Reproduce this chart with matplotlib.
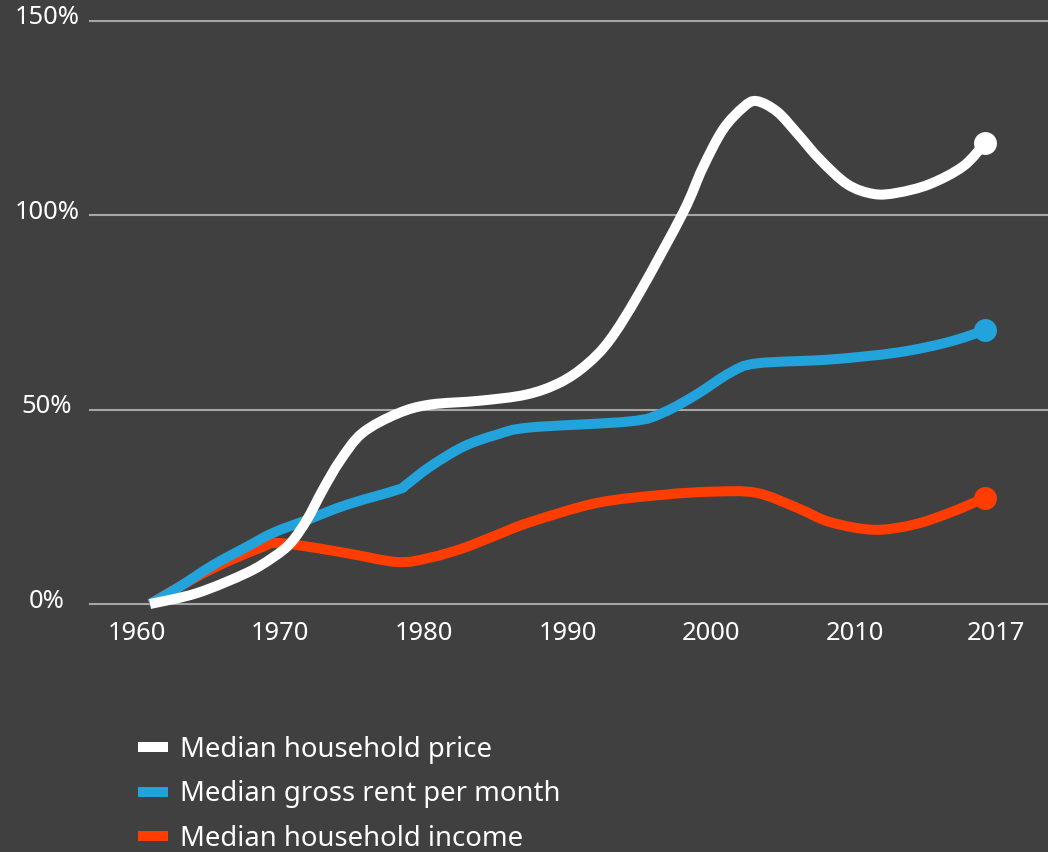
import numpy as np
import matplotlib
matplotlib.use('Agg')
from matplotlib import pyplot as plt
from matplotlib.lines import Line2D
from matplotlib.path import Path
from matplotlib.patches import PathPatch
from matplotlib import transforms

plt.rcParams['font.family'] = ['Noto Sans', 'DejaVu Sans']

# Values (percent change since 1960)
price_year = [1960, 1963.2, 1966.6, 1968.4, 1969.6, 1970.7, 1971.8, 1973.0, 1974.5, 1976.9,
              1979.1, 1982.5, 1985.7, 1988.0, 1989.8, 1991.4, 1993.4, 1996.4, 1997.7, 1999.1,
              2000.5, 2001.4, 2002.8, 2004.2, 2005.7, 2007.6, 2009.4, 2011.0, 2013.2, 2015.5,
              2017]
price_pct = [0, 2.8, 8.0, 12.0, 15.7, 21.6, 29.4, 37.0, 44.0, 49.0,
             51.3, 52.3, 53.9, 57.0, 61.6, 68.0, 80.0, 100.8, 112.0, 122.0,
             127.8, 129.4, 126.7, 121.0, 114.5, 108.0, 105.5, 105.8, 108.0, 112.6,
             118.6]

rent_year = [1960, 1962.0, 1964.3, 1966.6, 1968.4, 1970.7, 1973.4, 1976.9, 1977.5, 1979.1,
             1981.4, 1983.7, 1985.9, 1992.8, 1995.0, 1997.3, 1999.6, 2001.4, 2006.4, 2011.0,
             2014.4, 2017]
rent_pct = [0, 4.4, 10.0, 14.7, 18.3, 21.6, 25.5, 29.4, 30.7, 35.3,
            40.5, 43.6, 45.4, 47.0, 49.2, 53.9, 59.5, 61.9, 62.9, 64.7,
            67.3, 70.4]

income_year = [1960, 1963.2, 1965.5, 1967.7, 1968.4, 1970.0, 1973.4, 1976.9, 1979.1, 1981.4,
               1983.7, 1985.9, 1990.5, 1995.0, 1998.4, 2001.4, 2004.2, 2006.4, 2009.4, 2012.1,
               2014.6, 2017]
income_pct = [0, 7.0, 11.3, 14.7, 15.7, 15.2, 13.1, 10.8, 11.9, 14.4,
              17.8, 21.0, 26.0, 28.1, 28.9, 28.6, 24.7, 21.1, 19.1, 20.4,
              23.5, 27.3]

xtick_labels = ['1960', '1970', '1980', '1990', '2000', '2010', '2017']
xtick_pos = [1959.1, 1968.9, 1978.7, 1988.5, 1998.3, 2008.1, 2017.75]  # labels sit a bit left of the data
ytick_vals = [0, 50, 100, 150]
ytick_labels = ['0%', '50%', '100%', '150%']

series = [
    ('Median household price', price_year, price_pct, '#ffffff'),
    ('Median gross rent per month', rent_year, rent_pct, '#22a3dc'),
    ('Median household income', income_year, income_pct, '#ff3d00'),
]


def smooth_path(xs, ys):
    # catmull-rom through the points, written as cubic bezier segments
    p = np.column_stack([xs, ys]).astype(float)
    p = np.vstack([p[0], p, p[-1]])
    verts = [p[1]]
    codes = [Path.MOVETO]
    for i in range(1, len(p) - 2):
        c1 = p[i] + (p[i + 1] - p[i - 1]) / 6
        c2 = p[i + 1] - (p[i + 2] - p[i]) / 6
        verts += [c1, c2, p[i + 1]]
        codes += [Path.CURVE4] * 3
    return Path(verts, codes)


bg = '#404040'
W, H = 1048, 852
fig = plt.figure(figsize=(W / 100, H / 100), dpi=100, facecolor=bg)
# axes: x 90..1048 px, y 21..604 px
ax = fig.add_axes((90 / W, 1 - 604 / H, (W - 90) / W, (604 - 21) / H))
ax.set_facecolor(bg)
ax.set_xlim(1960 - 60 / 14.65, 1960 + (W - 150) / 14.65)
ax.set_ylim(0, 150)

for v in ytick_vals:
    ax.axhline(v, color='#a6a6a6', lw=1.5, zorder=1, clip_on=False)

# lower series first so the white line sits on top
for name, xs, ys, col in reversed(series):
    ax.add_patch(PathPatch(smooth_path(xs, ys), fill=False, edgecolor=col, lw=7.2,
                           capstyle='butt', joinstyle='round', zorder=3, clip_on=False))
    ax.plot(xs[-1], ys[-1], 'o', color=col, ms=16.5, mew=0, zorder=4, clip_on=False)

for s in ax.spines.values():
    s.set_visible(False)
ax.set_yticks([])
ax.set_xticks(xtick_pos)
ax.set_xticklabels(xtick_labels, color='white', fontsize=18.4)
ax.tick_params(axis='x', length=0, pad=12)

# y labels centred at x=46 px, a little above each gridline
trans = transforms.blended_transform_factory(fig.transFigure, ax.transData)
off = transforms.ScaledTranslation(0, 3 / 100, fig.dpi_scale_trans)
for v, lab in zip(ytick_vals, ytick_labels):
    fig.text(47 / W, v, lab, transform=trans + off, ha='center', va='center',
             color='white', fontsize=18.4)

handles = [Line2D([], [], color=c, lw=7.2, solid_capstyle='butt') for _, _, _, c in series]
fig.legend(handles, [s[0] for s in series], loc='upper left',
           bbox_to_anchor=(138 / W, 1 - 736 / H), frameon=False, fontsize=19.8,
           labelcolor='white', handlelength=1.09, handletextpad=0.45, labelspacing=0.6,
           borderpad=0, borderaxespad=0)

fig.savefig('out.png', dpi=100, facecolor=bg)
